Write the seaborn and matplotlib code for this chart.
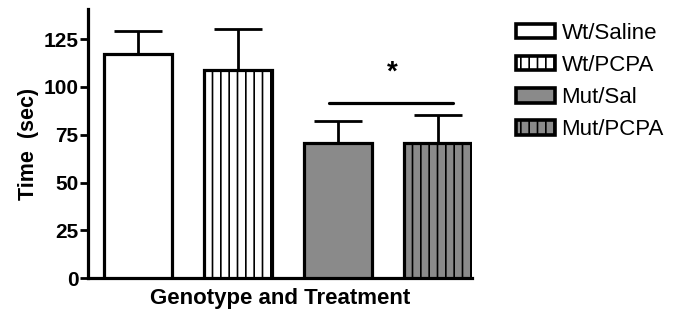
import numpy as np
import pandas as pd
import matplotlib
matplotlib.use("Agg")
import matplotlib.pyplot as plt
import seaborn as sns
from matplotlib.patches import Patch

# Datos
grupos = ['Wt/Saline', 'Wt/PCPA', 'Mut/Sal', 'Mut/PCPA']
medias = [117, 109, 70.5, 70.5]
errores = [12, 21.5, 11.5, 15]
colores = ['white', 'white', '#8a8a8a', '#8a8a8a']
tramas = ['', '||', '', '||']
yticks = [0, 25, 50, 75, 100, 125]


def main():
    sns.set_style('ticks')
    plt.rcParams['font.family'] = ['Liberation Sans', 'DejaVu Sans']
    plt.rcParams['hatch.linewidth'] = 1.2
    plt.rcParams['hatch.color'] = 'black'
    plt.rcParams['text.color'] = 'black'
    plt.rcParams['axes.labelcolor'] = 'black'
    plt.rcParams['xtick.color'] = 'black'
    plt.rcParams['ytick.color'] = 'black'
    plt.rcParams['axes.edgecolor'] = 'black'

    df = pd.DataFrame({'grupo': grupos, 'tiempo': medias})

    fig = plt.figure(figsize=(6.77, 3.12), dpi=100)
    ax = fig.add_axes([0.13, 0.108, 0.567, 0.862])

    sns.barplot(data=df, x='grupo', y='tiempo', hue='grupo', palette=colores,
                width=0.68, edgecolor='black', linewidth=2.3, errorbar=None,
                legend=False, ax=ax, zorder=3)

    for patch, trama in zip(ax.patches, tramas):
        patch.set_hatch(trama)

    # Barras de error solo hacia arriba
    pos = np.arange(len(grupos))
    ax.errorbar(pos, medias, yerr=[np.zeros(len(errores)), errores], fmt='none',
                ecolor='black', elinewidth=2.0, capsize=17, capthick=2.0, zorder=2)

    # Linea de significancia y asterisco
    ax.plot([1.91, 3.15], [91.8, 91.8], color='black', lw=2.3, clip_on=False)
    ax.text(2.54, 107.5, '*', ha='center', va='center', fontsize=20, fontweight='bold')

    ax.set_xlim(-0.5, 3.34)
    ax.set_ylim(0, 140.5)
    ax.set_yticks(yticks)
    ax.set_yticklabels([str(t) for t in yticks], fontsize=15, fontweight='bold')
    ax.set_xticks([])
    ax.set_xlabel('Genotype and Treatment', fontsize=16, fontweight='bold', labelpad=7)
    ax.set_ylabel('Time  (sec)', fontsize=15.5, fontweight='bold', labelpad=3)

    sns.despine(ax=ax)
    for lado in ['left', 'bottom']:
        ax.spines[lado].set_linewidth(2.3)
    ax.tick_params(axis='y', width=2.0, length=6, pad=1)

    handles = [Patch(facecolor=c, edgecolor='black', hatch=h, linewidth=2.6)
               for c, h in zip(colores, tramas)]
    fig.legend(handles, grupos, loc='upper left', bbox_to_anchor=(0.749, 0.955),
               frameon=False, fontsize=16, handlelength=1.75, handleheight=0.63,
               labelspacing=0.5, handletextpad=0.3, borderaxespad=0)

    fig.savefig('out.png', dpi=100)
    plt.close(fig)


if __name__ == "__main__":
    main()
